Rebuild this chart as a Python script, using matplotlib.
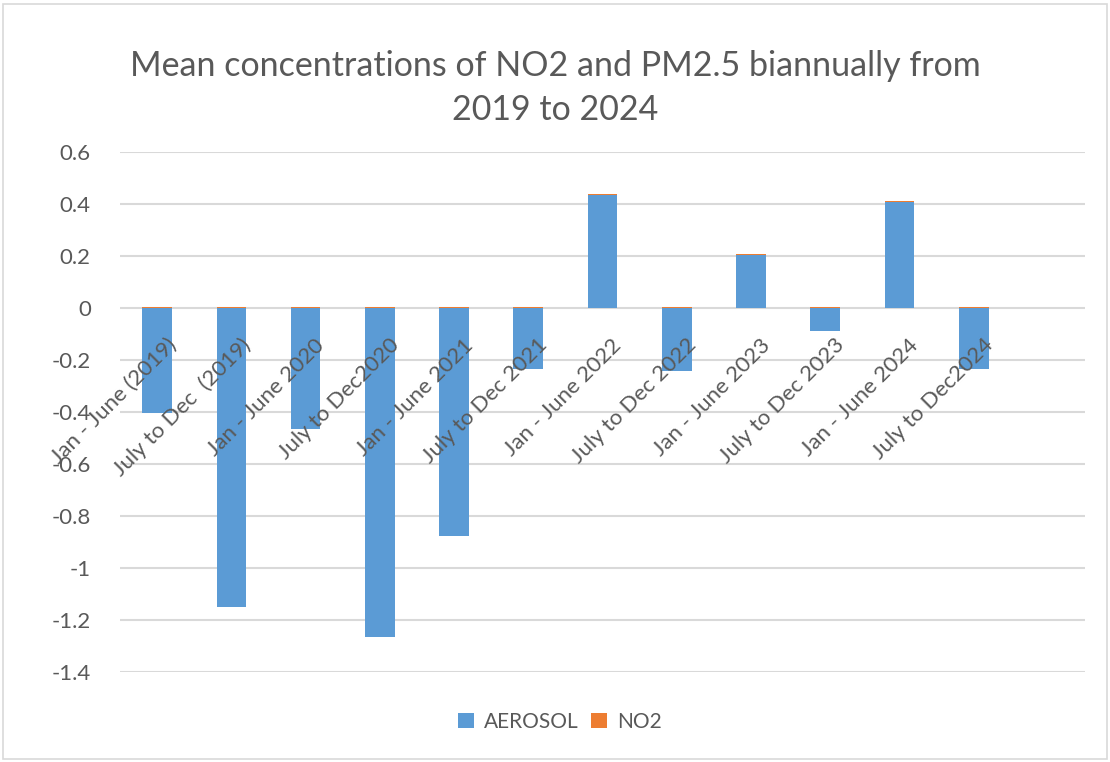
import numpy as np
import matplotlib
matplotlib.use("Agg")
import matplotlib.pyplot as plt
import matplotlib.transforms as mtransforms
from matplotlib.patches import Rectangle

plt.rcParams['font.family'] = ['Lato', 'DejaVu Sans']

# ---- dados ----
periods = ["Jan - June (2019)", "July to Dec  (2019)", "Jan - June 2020",
           "July to Dec2020", "Jan - June 2021", "July to Dec 2021",
           "Jan - June 2022", "July to Dec 2022", "Jan - June 2023",
           "July to Dec 2023", "Jan - June 2024", "July to Dec2024"]
aerosol = [-0.405, -1.15, -0.465, -1.265, -0.875, -0.235,
           0.435, -0.243, 0.203, -0.087, 0.408, -0.236]
no2 = [0.004, 0.004, 0.004, 0.004, 0.004, 0.004,
       0.004, 0.004, 0.003, 0.004, 0.003, 0.004]
yticks = [0.6, 0.4, 0.2, 0, -0.2, -0.4, -0.6, -0.8, -1, -1.2, -1.4]

blue = '#5B9BD5'
orange = '#ED7D31'
grey = '#595959'
grid = '#D9D9D9'

fig = plt.figure(figsize=(11.10, 7.62), dpi=100)
ax = fig.add_axes([120 / 1110, 1 - 672 / 762, 965 / 1110, 520 / 762])

x = np.arange(len(periods))
aer = np.array(aerosol)
no2_bottom = np.where(aer > 0, aer, 0)
ax.bar(x, aer, width=0.4, color=blue, label='AEROSOL', zorder=3)
ax.bar(x, no2, width=0.4, bottom=no2_bottom, color=orange, label='NO2', zorder=3)

ax.set_xlim(-0.5, 12.5)
ax.set_ylim(-1.4, 0.6)
ax.set_yticks(yticks)
ax.set_yticklabels([f"{v:g}" for v in yticks], fontsize=16, color=grey)
ax.tick_params(axis='y', length=0, pad=21)
ax.set_xticks([])
ax.grid(True, axis='y', color=grid, linewidth=1.5, zorder=0)
for s in ax.spines.values():
    s.set_visible(False)

# rótulos das categorias junto ao zero, rodados 45°
offset = mtransforms.ScaledTranslation(9 / 100, -27 / 100, fig.dpi_scale_trans)
for xi, lab in zip(x, periods):
    ax.text(xi, 0, lab, rotation=45, rotation_mode='anchor', ha='right', va='top',
            fontsize=16, color=grey, transform=ax.transData + offset, zorder=4)

fig.text(0.5, 1 - 88 / 762, "Mean concentrations of NO2 and PM2.5 biannually from\n2019 to 2024",
         ha='center', va='center', fontsize=24.5, color=grey, linespacing=1.45)

fig.legend(loc='center', bbox_to_anchor=(560 / 1110, 1 - 722 / 762), ncol=2, frameon=False,
           fontsize=15, labelcolor=grey, handlelength=0.75, handleheight=0.75,
           handletextpad=0.5, columnspacing=0.6)

# moldura do gráfico
fig.patches.append(Rectangle((3 / 1110, 3 / 762), 1104 / 1110, 755 / 762, transform=fig.transFigure,
                             fill=False, edgecolor=grid, linewidth=1.2))

fig.savefig("out.png", dpi=100)
